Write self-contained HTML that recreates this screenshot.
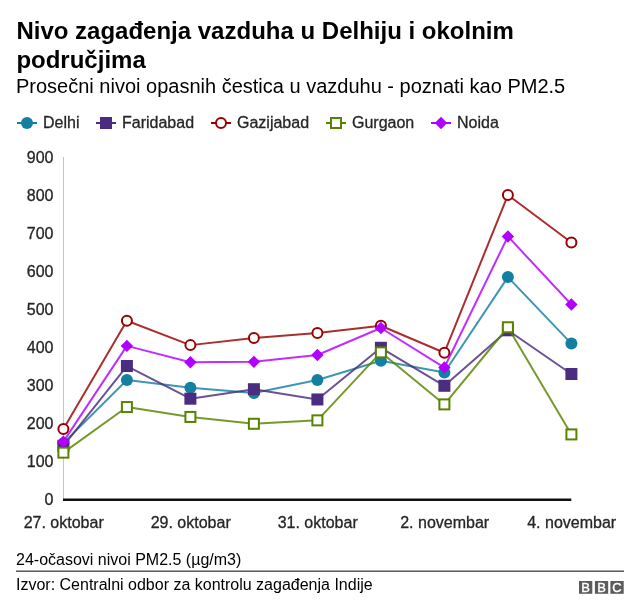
<!DOCTYPE html>
<html lang="sr">
<head>
<meta charset="utf-8">
<title>Nivo zagađenja vazduha u Delhiju i okolnim područjima</title>
<style>
html,body{margin:0;padding:0;background:#fff;}
body{width:640px;height:615px;overflow:hidden;}
svg{display:block;filter:blur(0.35px);}
text{font-family:"Liberation Sans",Arial,Helvetica,sans-serif;}
.t{font-size:24px;font-weight:bold;fill:#000;}
.s{font-size:20px;fill:#000;}
.l{font-size:16px;fill:#262626;stroke:#262626;stroke-width:0.3px;}
.f{font-size:16px;fill:#000;}
.b{font-size:13px;font-weight:normal;fill:#fff;stroke:#fff;stroke-width:0.4px;text-anchor:middle;}
</style>
</head>
<body>
<svg width="640" height="615" viewBox="0 0 640 615">
<rect width="640" height="615" fill="#fff"/>
<text class="t" x="16.4" y="39.2">Nivo zagađenja vazduha u Delhiju i okolnim</text>
<text class="t" x="16.4" y="67.5">područjima</text>
<text class="s" x="16" y="92.5">Prosečni nivoi opasnih čestica u vazduhu - poznati kao PM2.5</text>

<g>
<line x1="17" y1="123" x2="37" y2="123" stroke="#1380A1" stroke-width="2"/>
<circle cx="27.00" cy="123.00" r="6" fill="#1380A1"/>
<text class="l" x="43" y="128">Delhi</text>
<line x1="96" y1="123" x2="116" y2="123" stroke="#4A2C80" stroke-width="2"/>
<rect x="100.00" y="117.00" width="12" height="12" fill="#4A2C80"/>
<text class="l" x="122" y="128">Faridabad</text>
<line x1="211" y1="123" x2="231" y2="123" stroke="#990000" stroke-width="2"/>
<circle cx="221.00" cy="123.00" r="5" fill="#fff" stroke="#990000" stroke-width="2"/>
<text class="l" x="237" y="128">Gazijabad</text>
<line x1="326" y1="123" x2="346" y2="123" stroke="#588300" stroke-width="2"/>
<rect x="331.00" y="118.00" width="10" height="10" fill="#fff" stroke="#588300" stroke-width="2"/>
<text class="l" x="352" y="128">Gurgaon</text>
<line x1="431" y1="123" x2="451" y2="123" stroke="#B200FF" stroke-width="2"/>
<polygon points="441.00,116.80 447.20,123.00 441.00,129.20 434.80,123.00" fill="#B200FF"/>
<text class="l" x="457" y="128">Noida</text>
</g>
<line x1="63.5" y1="157" x2="63.5" y2="499" stroke="#c6c6c6" stroke-width="1"/>
<g class="l" text-anchor="end">
<text class="l" x="53.5" y="505.10" text-anchor="end">0</text>
<text class="l" x="53.5" y="467.10" text-anchor="end">100</text>
<text class="l" x="53.5" y="429.10" text-anchor="end">200</text>
<text class="l" x="53.5" y="391.10" text-anchor="end">300</text>
<text class="l" x="53.5" y="353.10" text-anchor="end">400</text>
<text class="l" x="53.5" y="315.10" text-anchor="end">500</text>
<text class="l" x="53.5" y="277.10" text-anchor="end">600</text>
<text class="l" x="53.5" y="239.10" text-anchor="end">700</text>
<text class="l" x="53.5" y="201.10" text-anchor="end">800</text>
<text class="l" x="53.5" y="163.10" text-anchor="end">900</text>
</g>
<rect x="63" y="498.5" width="508.3" height="2.5" fill="#111"/>
<text class="l" x="63.70" y="528" text-anchor="middle">27. oktobar</text>
<text class="l" x="190.70" y="528" text-anchor="middle">29. oktobar</text>
<text class="l" x="317.70" y="528" text-anchor="middle">31. oktobar</text>
<text class="l" x="444.70" y="528" text-anchor="middle">2. novembar</text>
<text class="l" x="571.70" y="528" text-anchor="middle">4. novembar</text>
<g><polyline points="63.40,443.16 126.90,380.08 190.40,387.68 253.90,393.00 317.40,380.08 380.90,360.70 444.40,372.48 507.90,277.10 571.40,343.60" fill="none" stroke="#1380A1" stroke-width="2" stroke-opacity="0.82" stroke-linejoin="round"/>
<circle cx="63.40" cy="443.16" r="6" fill="#1380A1"/>
<circle cx="126.90" cy="380.08" r="6" fill="#1380A1"/>
<circle cx="190.40" cy="387.68" r="6" fill="#1380A1"/>
<circle cx="253.90" cy="393.00" r="6" fill="#1380A1"/>
<circle cx="317.40" cy="380.08" r="6" fill="#1380A1"/>
<circle cx="380.90" cy="360.70" r="6" fill="#1380A1"/>
<circle cx="444.40" cy="372.48" r="6" fill="#1380A1"/>
<circle cx="507.90" cy="277.10" r="6" fill="#1380A1"/>
<circle cx="571.40" cy="343.60" r="6" fill="#1380A1"/>
</g>
<g><polyline points="63.40,445.82 126.90,366.02 190.40,398.70 253.90,389.20 317.40,399.46 380.90,347.78 444.40,385.78 507.90,330.30 571.40,374.00" fill="none" stroke="#4A2C80" stroke-width="2" stroke-opacity="0.82" stroke-linejoin="round"/>
<rect x="57.40" y="439.82" width="12" height="12" fill="#4A2C80"/>
<rect x="120.90" y="360.02" width="12" height="12" fill="#4A2C80"/>
<rect x="184.40" y="392.70" width="12" height="12" fill="#4A2C80"/>
<rect x="247.90" y="383.20" width="12" height="12" fill="#4A2C80"/>
<rect x="311.40" y="393.46" width="12" height="12" fill="#4A2C80"/>
<rect x="374.90" y="341.78" width="12" height="12" fill="#4A2C80"/>
<rect x="438.40" y="379.78" width="12" height="12" fill="#4A2C80"/>
<rect x="501.90" y="324.30" width="12" height="12" fill="#4A2C80"/>
<rect x="565.40" y="368.00" width="12" height="12" fill="#4A2C80"/>
</g>
<g><polyline points="63.40,429.10 126.90,320.80 190.40,345.12 253.90,337.90 317.40,332.96 380.90,325.74 444.40,352.72 507.90,195.02 571.40,242.52" fill="none" stroke="#990000" stroke-width="2" stroke-opacity="0.82" stroke-linejoin="round"/>
<circle cx="63.40" cy="429.10" r="5" fill="#fff" stroke="#990000" stroke-width="2"/>
<circle cx="126.90" cy="320.80" r="5" fill="#fff" stroke="#990000" stroke-width="2"/>
<circle cx="190.40" cy="345.12" r="5" fill="#fff" stroke="#990000" stroke-width="2"/>
<circle cx="253.90" cy="337.90" r="5" fill="#fff" stroke="#990000" stroke-width="2"/>
<circle cx="317.40" cy="332.96" r="5" fill="#fff" stroke="#990000" stroke-width="2"/>
<circle cx="380.90" cy="325.74" r="5" fill="#fff" stroke="#990000" stroke-width="2"/>
<circle cx="444.40" cy="352.72" r="5" fill="#fff" stroke="#990000" stroke-width="2"/>
<circle cx="507.90" cy="195.02" r="5" fill="#fff" stroke="#990000" stroke-width="2"/>
<circle cx="571.40" cy="242.52" r="5" fill="#fff" stroke="#990000" stroke-width="2"/>
</g>
<g><polyline points="63.40,452.66 126.90,407.06 190.40,416.94 253.90,423.78 317.40,420.36 380.90,352.34 444.40,404.40 507.90,327.26 571.40,434.42" fill="none" stroke="#588300" stroke-width="2" stroke-opacity="0.82" stroke-linejoin="round"/>
<rect x="58.40" y="447.66" width="10" height="10" fill="#fff" stroke="#588300" stroke-width="2"/>
<rect x="121.90" y="402.06" width="10" height="10" fill="#fff" stroke="#588300" stroke-width="2"/>
<rect x="185.40" y="411.94" width="10" height="10" fill="#fff" stroke="#588300" stroke-width="2"/>
<rect x="248.90" y="418.78" width="10" height="10" fill="#fff" stroke="#588300" stroke-width="2"/>
<rect x="312.40" y="415.36" width="10" height="10" fill="#fff" stroke="#588300" stroke-width="2"/>
<rect x="375.90" y="347.34" width="10" height="10" fill="#fff" stroke="#588300" stroke-width="2"/>
<rect x="439.40" y="399.40" width="10" height="10" fill="#fff" stroke="#588300" stroke-width="2"/>
<rect x="502.90" y="322.26" width="10" height="10" fill="#fff" stroke="#588300" stroke-width="2"/>
<rect x="566.40" y="429.42" width="10" height="10" fill="#fff" stroke="#588300" stroke-width="2"/>
</g>
<g><polyline points="63.40,441.64 126.90,345.88 190.40,362.22 253.90,361.84 317.40,355.00 380.90,328.02 444.40,367.54 507.90,236.44 571.40,304.46" fill="none" stroke="#B200FF" stroke-width="2" stroke-opacity="0.82" stroke-linejoin="round"/>
<polygon points="63.40,435.44 69.60,441.64 63.40,447.84 57.20,441.64" fill="#B200FF"/>
<polygon points="126.90,339.68 133.10,345.88 126.90,352.08 120.70,345.88" fill="#B200FF"/>
<polygon points="190.40,356.02 196.60,362.22 190.40,368.42 184.20,362.22" fill="#B200FF"/>
<polygon points="253.90,355.64 260.10,361.84 253.90,368.04 247.70,361.84" fill="#B200FF"/>
<polygon points="317.40,348.80 323.60,355.00 317.40,361.20 311.20,355.00" fill="#B200FF"/>
<polygon points="380.90,321.82 387.10,328.02 380.90,334.22 374.70,328.02" fill="#B200FF"/>
<polygon points="444.40,361.34 450.60,367.54 444.40,373.74 438.20,367.54" fill="#B200FF"/>
<polygon points="507.90,230.24 514.10,236.44 507.90,242.64 501.70,236.44" fill="#B200FF"/>
<polygon points="571.40,298.26 577.60,304.46 571.40,310.66 565.20,304.46" fill="#B200FF"/>
</g>
<text class="f" x="16" y="565">24-očasovi nivoi PM2.5 (µg/m3)</text>
<rect x="16" y="570.6" width="608" height="1.1" fill="#1a1a1a"/>
<text class="f" x="16" y="590">Izvor: Centralni odbor za kontrolu zagađenja Indije</text>
<rect x="579" y="581" width="13.3" height="12.8" fill="#5c5c5c"/>
<text class="b" x="585.65" y="592.1">B</text>
<rect x="594.9" y="581" width="13.3" height="12.8" fill="#5c5c5c"/>
<text class="b" x="601.55" y="592.1">B</text>
<rect x="610.4" y="581" width="13.3" height="12.8" fill="#5c5c5c"/>
<text class="b" x="617.05" y="592.1">C</text>
</svg>
</body>
</html>
